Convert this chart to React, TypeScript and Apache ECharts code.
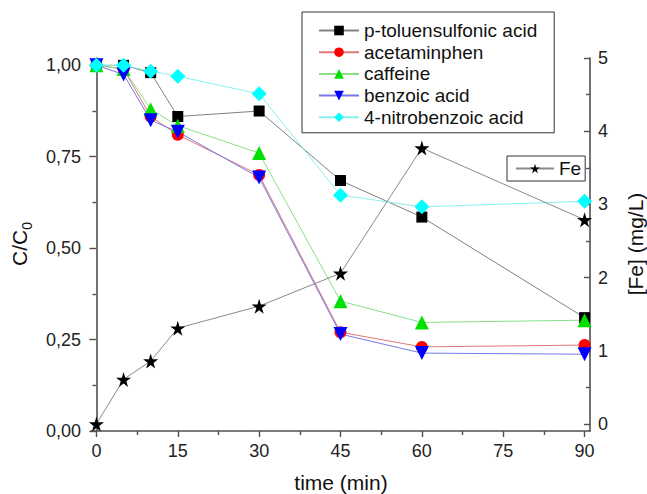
import { useEffect, useRef } from 'react';
import * as echarts from 'echarts';

const times = [0, 5, 10, 15, 30, 45, 60, 90];
const pToluensulfonic = [1.0, 1.0, 0.98, 0.86, 0.875, 0.685, 0.585, 0.31];
const acetaminphen = [1.0, 0.99, 0.86, 0.81, 0.7, 0.27, 0.23, 0.235];
const caffeine = [1.0, 0.99, 0.88, 0.835, 0.76, 0.355, 0.297, 0.303];
const benzoic = [1.0, 0.975, 0.85, 0.818, 0.693, 0.265, 0.213, 0.21];
const nitrobenzoic = [1.0, 1.0, 0.984, 0.97, 0.922, 0.645, 0.613, 0.628];
const fe = [0.0, 0.61, 0.86, 1.31, 1.61, 2.06, 3.77, 2.79];

const xMajorTicks = [0, 15, 30, 45, 60, 75, 90];
const xMinorTicks = [7.5, 22.5, 37.5, 52.5, 67.5, 82.5];
const leftMajorTicks = [0, 0.25, 0.5, 0.75, 1];
const leftMinorTicks = [0.125, 0.375, 0.625, 0.875];
const rightMajorTicks = [0, 1, 2, 3, 4, 5];
const rightMinorTicks = [0.5, 1.5, 2.5, 3.5, 4.5];

const FONT = 'Arial, "Liberation Sans", sans-serif';
const AXIS_COLOR = '#505050';
const STAR = 'path://M50,0 L61,35 L98,35 L68,57 L79,91 L50,70 L21,91 L32,57 L2,35 L39,35 Z';

const pairs = (ys: number[]) => times.map((t, i) => [t, ys[i]]);

export default function App() {
  const ref = useRef<HTMLDivElement>(null);
  useEffect(() => {
    if (!ref.current) return;
    const chart = echarts.init(ref.current, null, { renderer: 'svg' });
    const axisLine = { show: true, lineStyle: { color: AXIS_COLOR, width: 1.6 } };
    const tickLine = { color: AXIS_COLOR, width: 1.4 };
    const mkSeries = (name: string, ys: number[], symbol: string, size: number, color: string, lineColor: string, extra: any = {}) => ({
      name,
      type: 'line',
      data: pairs(ys),
      xAxisIndex: 0,
      yAxisIndex: 0,
      symbol,
      symbolSize: size,
      showAllSymbol: true,
      clip: false,
      itemStyle: { color, borderWidth: 0 },
      lineStyle: { color: lineColor, width: 1 },
      emphasis: { disabled: true },
      ...extra,
    });
    chart.setOption({
      animation: false,
      textStyle: { fontFamily: FONT },
      grid: { left: 91, top: 58, width: 499, height: 373, containLabel: false },
      xAxis: [
        {
          type: 'value', min: -1, max: 91, position: 'bottom',
          axisLine,
          axisTick: { show: true, customValues: xMajorTicks, length: 6, lineStyle: tickLine },
          axisLabel: { customValues: xMajorTicks, fontSize: 18, color: '#222', margin: 11, fontFamily: FONT },
          splitLine: { show: false },
        },
        {
          type: 'value', min: -1, max: 91, position: 'bottom',
          axisLine: { show: false },
          axisTick: { show: true, customValues: xMinorTicks, length: 4, lineStyle: tickLine },
          axisLabel: { show: false },
          splitLine: { show: false },
        },
      ],
      yAxis: [
        {
          type: 'value', min: 0, max: 1.02, position: 'left',
          axisLine,
          axisTick: { show: true, customValues: leftMajorTicks, length: 7, lineStyle: tickLine },
          axisLabel: {
            customValues: leftMajorTicks, fontSize: 18, color: '#222', margin: 10, fontFamily: FONT,
            formatter: (v: number) => v.toFixed(2).replace('.', ','),
          },
          splitLine: { show: false },
        },
        {
          type: 'value', min: 0, max: 1.02, position: 'left',
          axisLine: { show: false },
          axisTick: { show: true, customValues: leftMinorTicks, length: 4, lineStyle: tickLine },
          axisLabel: { show: false },
          splitLine: { show: false },
        },
        {
          type: 'value', min: -0.095, max: 5, position: 'right',
          axisLine,
          axisTick: { show: true, inside: true, customValues: rightMajorTicks, length: 6, lineStyle: tickLine },
          axisLabel: { customValues: rightMajorTicks, fontSize: 18, color: '#222', margin: 8, fontFamily: FONT },
          splitLine: { show: false },
        },
        {
          type: 'value', min: -0.095, max: 5, position: 'right',
          axisLine: { show: false },
          axisTick: { show: true, inside: true, customValues: rightMinorTicks, length: 4, lineStyle: tickLine },
          axisLabel: { show: false },
          splitLine: { show: false },
        },
      ],
      legend: [
        {
          orient: 'vertical', left: 302, top: 12,
          data: ['p-toluensulfonic acid', 'acetaminphen', 'caffeine', 'benzoic acid', '4-nitrobenzoic acid'],
          itemWidth: 40, itemHeight: 12, itemGap: 2.7,
          padding: [9, 17, 6, 16],
          borderColor: '#333', borderWidth: 1, borderRadius: 0,
          backgroundColor: 'transparent',
          textStyle: { fontSize: 19, lineHeight: 19, color: '#111', fontFamily: FONT },
          selectedMode: false,
        },
        {
          orient: 'vertical', left: 507, top: 156,
          data: ['Fe'],
          itemWidth: 38, itemHeight: 12,
          padding: [3, 4, 3, 8],
          borderColor: '#333', borderWidth: 1, borderRadius: 0,
          backgroundColor: 'transparent',
          textStyle: { fontSize: 19, lineHeight: 19, color: '#111', fontFamily: FONT },
          selectedMode: false,
        },
      ],
      graphic: [
        {
          type: 'text', x: 21, y: 244, rotation: Math.PI / 2,
          style: {
            text: '{a|C/C}{b|0}',
            align: 'center', verticalAlign: 'middle',
            rich: {
              a: { fontSize: 21, lineHeight: 25, verticalAlign: 'top', fontFamily: FONT, fill: '#111' },
              b: { fontSize: 14, lineHeight: 14, verticalAlign: 'bottom', fontFamily: FONT, fill: '#111' },
            },
          },
        },
        {
          type: 'text', x: 635, y: 244, rotation: Math.PI / 2,
          style: { text: '[Fe] (mg/L)', fontSize: 21, fontFamily: FONT, fill: '#111', align: 'center', verticalAlign: 'middle' },
        },
        {
          type: 'text', x: 341, y: 482,
          style: { text: 'time (min)', fontSize: 21, fontFamily: FONT, fill: '#111', align: 'center', verticalAlign: 'middle' },
        },
      ],
      series: [
        mkSeries('p-toluensulfonic acid', pToluensulfonic, 'rect', 11, '#000000', '#808080'),
        mkSeries('acetaminphen', acetaminphen, 'circle', 12, '#ff0000', '#e07878'),
        mkSeries('caffeine', caffeine, 'triangle', 14, '#00e000', '#88e088'),
        mkSeries('benzoic acid', benzoic, 'triangle', 14, '#0000ff', '#7878e8', { symbolRotate: 180 }),
        mkSeries('4-nitrobenzoic acid', nitrobenzoic, 'diamond', 15, '#00ffff', '#88f0f0'),
        mkSeries('Fe', fe, STAR, 15, '#000000', '#8a8a8a', { yAxisIndex: 2 }),
      ],
    });
    return () => chart.dispose();
  }, []);
  return <div ref={ref} style={{ width: 647, height: 494, position: 'absolute', left: 0, top: 0 }} />;
}
